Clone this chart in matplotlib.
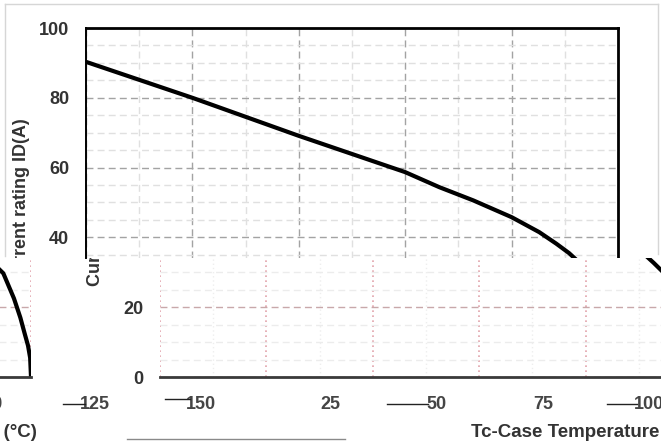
import matplotlib
matplotlib.use("Agg")
import matplotlib.pyplot as plt
from matplotlib.ticker import MultipleLocator
from matplotlib.lines import Line2D
from matplotlib.transforms import Bbox, TransformedBbox

plt.rcParams['font.family'] = ['Liberation Sans', 'DejaVu Sans']
plt.rcParams['font.weight'] = 'bold'
plt.rcParams['axes.labelweight'] = 'bold'

# derating curve: drain current vs case temperature
temp_c = [25, 50, 75, 100, 108, 116, 125, 131.5, 135.5, 138.5, 141, 143.5,
          146, 147.5, 148.5, 149.3, 149.8, 150]
current_a = [90.3, 80.0, 69.1, 58.7, 54.4, 50.6, 45.8, 41.5, 38.2, 35.5, 32.7,
             29.7, 22.5, 17.0, 12.5, 9.0, 5.5, 0.0]
x_ticks = [25, 50, 75, 100, 125, 150]
y_ticks_upper = [40, 60, 80, 100]
y_ticks_lower = [0, 20]
x_label = 'Tc-Case Temperature (°C)'
y_label = 'Current rating ID(A)'

W, H = 661, 448
fig = plt.figure(figsize=(W / 100, H / 100), dpi=100)

# plot box in pixels, and the row where the image bands split
PLOT_L, PLOT_R, PLOT_T, PLOT_B = 86, 618, 28, 377
SPLIT = 258
SHIFT_LOW = 74     # horizontal offset of the lower plot band
SHIFT_TXT = 244    # horizontal offset of the x label rows
TXT = '#333333'

y_split = 100 * (PLOT_B - SPLIT) / (PLOT_B - PLOT_T)


def px_axes(x0, y0, x1, y1):
    return fig.add_axes([x0 / W, 1 - y1 / H, (x1 - x0) / W, (y1 - y0) / H])


def set_locators(ax):
    ax.set_xlim(25, 150)
    ax.xaxis.set_major_locator(MultipleLocator(25))
    ax.xaxis.set_minor_locator(MultipleLocator(12.5))
    ax.yaxis.set_major_locator(MultipleLocator(20))
    ax.yaxis.set_minor_locator(MultipleLocator(5))
    ax.tick_params(which='both', length=0)
    ax.set_axisbelow(True)


# ---- upper band: untouched part of the chart ----
ax_top = px_axes(PLOT_L, PLOT_T, PLOT_R, SPLIT)
set_locators(ax_top)
ax_top.set_ylim(y_split, 100)
ax_top.set_yticks(y_ticks_upper)
ax_top.grid(which='major', color='#a3a3a3', linestyle=(0, (5, 3)), linewidth=1)
ax_top.grid(which='minor', color='#e0e0e0', linestyle=(0, (5, 3)), linewidth=1)
ax_top.plot(temp_c, current_a, color='black', linewidth=3)
ax_top.tick_params(axis='y', pad=12, labelsize=13, labelcolor=TXT)
ax_top.tick_params(axis='x', labelbottom=False)
ax_top.spines['bottom'].set_visible(False)
ax_top.spines['top'].set_linewidth(2)
ax_top.spines['right'].set_linewidth(2)
ax_top.spines['left'].set_linewidth(1.4)

# ---- lower band, drawn offset to the right and wrapped round ----
for dx in (SHIFT_LOW, SHIFT_LOW - W):
    ax = px_axes(PLOT_L + dx, SPLIT, PLOT_R + dx, PLOT_B)
    set_locators(ax)
    ax.set_ylim(0, y_split)
    ax.set_yticks(y_ticks_lower)
    ax.xaxis.grid(which='major', color='#e2a3ab', linestyle=(0, (1, 2)), linewidth=1.2)
    ax.xaxis.grid(which='minor', color='#eeeeee', linestyle=(0, (1, 2)), linewidth=1)
    ax.yaxis.grid(which='major', color='#c8a8aa', linestyle=(0, (5, 3)), linewidth=1)
    ax.yaxis.grid(which='minor', color='#ececec', linestyle=(0, (5, 3)), linewidth=1)
    ax.plot(temp_c, current_a, color='black', linewidth=3)
    ax.tick_params(axis='y', pad=12, labelsize=13, labelcolor=TXT,
                   labelleft=dx > 0)
    ax.tick_params(axis='x', labelbottom=False)
    for side in ('top', 'left', 'right'):
        ax.spines[side].set_visible(False)
    ax.spines['bottom'].set_linewidth(2)
    ax.spines['bottom'].set_color('#3a3a3a')

# ---- x tick labels and axis title rows, offset further ----
for dx in (SHIFT_TXT, SHIFT_TXT - W):
    ax = px_axes(PLOT_L + dx, SPLIT, PLOT_R + dx, PLOT_B)
    ax.set_xlim(25, 150)
    ax.set_xticks(x_ticks)
    ax.set_yticks([])
    ax.patch.set_visible(False)
    for s in ax.spines.values():
        s.set_visible(False)
    ax.tick_params(axis='x', length=0, pad=13.5, labelsize=13, labelcolor='#454545')
    ax.set_xlabel(x_label, fontsize=13.5, fontweight='bold', color=TXT, labelpad=8)
    ax.xaxis.label.set_x(0.5 - 12 / (PLOT_R - PLOT_L))

# ---- y axis title, cut at the band edge ----
upper_clip = TransformedBbox(Bbox([[0, 1 - SPLIT / H], [1, 1]]), fig.transFigure)
lower_clip = TransformedBbox(Bbox([[0, 0], [1, 1 - SPLIT / H]]), fig.transFigure)
for dx, clip in ((0, upper_clip), (SHIFT_LOW, lower_clip)):
    t = fig.text((22 + dx) / W, 1 - 202 / H, y_label, rotation=90,
                 ha='center', va='center', fontsize=13, color=TXT)
    t.set_clip_box(clip)
    t.set_clip_on(True)

# outer frame of the image
frame = [((5, 5), (4, 256)), ((5, 658), (4, 4)), ((658, 658), (4, 254))]
for xs, ys in frame:
    fig.add_artist(Line2D([x / W for x in xs], [1 - y / H for y in ys],
                          transform=fig.transFigure, color='#d6d6d6', linewidth=1))

# streaks left in the label rows
streaks = [((63, 85), 404, '#222222'), ((165, 190), 399, '#222222'),
           ((387, 428), 404, '#222222'), ((607, 637), 404, '#222222'),
           ((127, 345), 439, '#8a8a8a')]
for (x0, x1), y, c in streaks:
    fig.add_artist(Line2D([x0 / W, x1 / W], [1 - y / H] * 2,
                          transform=fig.transFigure, color=c, linewidth=1))

fig.savefig('out.png', dpi=100)
